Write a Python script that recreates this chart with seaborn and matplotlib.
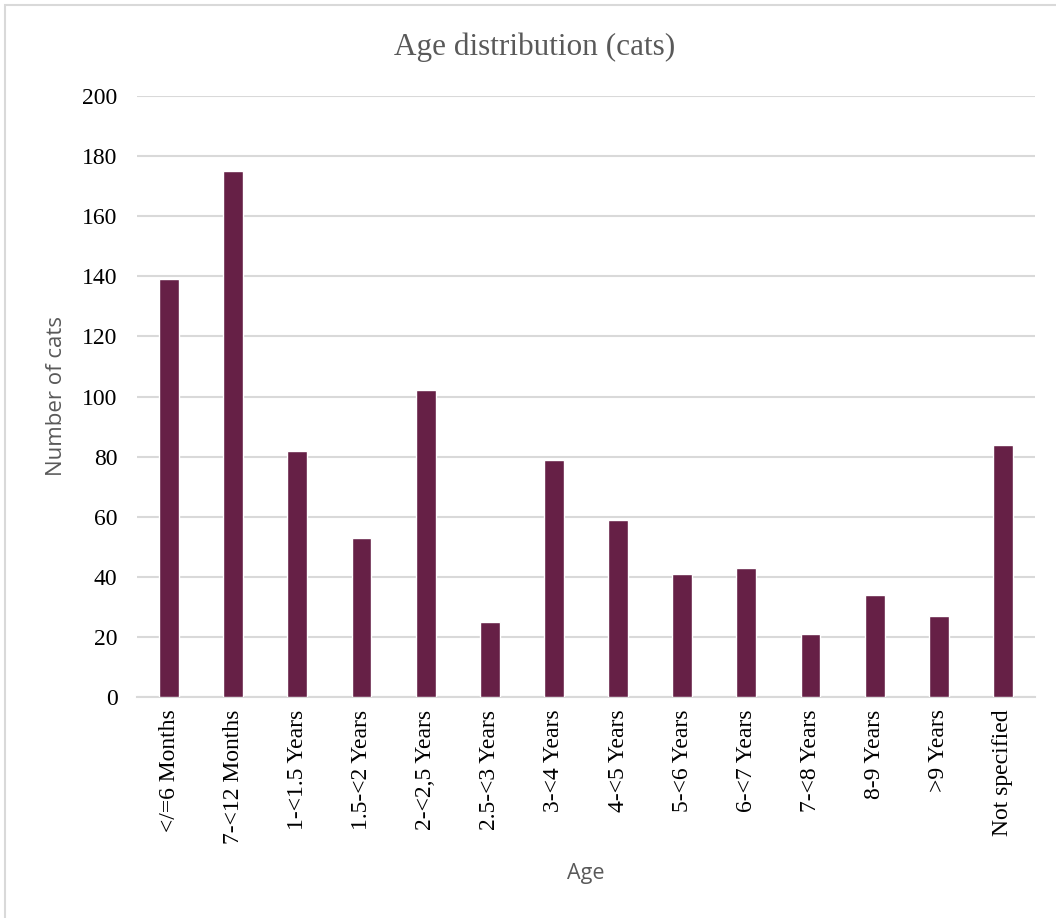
import matplotlib
matplotlib.use("Agg")
import matplotlib.pyplot as plt
import seaborn as sns
import pandas as pd
from matplotlib.patches import Rectangle

categories = ["</=6 Months", "7-<12 Months", "1-<1.5 Years", "1.5-<2 Years",
              "2-<2,5 Years", "2.5-<3 Years", "3-<4 Years", "4-<5 Years",
              "5-<6 Years", "6-<7 Years", "7-<8 Years", "8-9 Years",
              ">9 Years", "Not specified"]
counts = [139, 175, 82, 53, 102, 25, 79, 59, 41, 43, 21, 34, 27, 84]
yticks = [0, 20, 40, 60, 80, 100, 120, 140, 160, 180, 200]

df = pd.DataFrame({"Age": categories, "Number of cats": counts})

sns.set_theme(style="white")
SERIF = ["Liberation Serif", "DejaVu Serif"]
SANS = ["Open Sans", "DejaVu Sans"]

fig = plt.figure(figsize=(10.56, 9.18), dpi=100)
ax = fig.add_axes([137/1056, 1 - 697/918, (1035 - 137)/1056, (697 - 96)/918])

sns.barplot(data=df, x="Age", y="Number of cats", color="#662046",
            saturation=1, width=0.31, ax=ax, zorder=3)

ax.set_ylim(0, 200)
ax.set_xlim(-0.5, len(categories) - 0.5)
ax.set_yticks(yticks)
ax.yaxis.grid(True, color="#D9D9D9", linewidth=1.5, zorder=0)
ax.xaxis.grid(False)
for s in ["top", "right", "left"]:
    ax.spines[s].set_visible(False)
ax.spines["bottom"].set_color("#D9D9D9")
ax.spines["bottom"].set_linewidth(1.5)
ax.tick_params(axis="both", length=0)
ax.tick_params(axis="y", pad=14)
ax.tick_params(axis="x", pad=9)

for lbl in ax.get_yticklabels():
    lbl.set_fontfamily(SERIF)
    lbl.set_fontsize(17)
    lbl.set_color("black")
ax.set_xticks(range(len(categories)))
ax.set_xticklabels(categories, rotation=90, fontfamily=SERIF, fontsize=17, color="black")

ax.set_xlabel("Age", fontfamily=SANS, fontsize=15.5, color="#595959", labelpad=0)
ax.xaxis.set_label_coords((586 - 137) / (1035 - 137), -(873 - 697) / (697 - 96))
ax.xaxis.label.set_verticalalignment("center")
ax.set_ylabel("Number of cats", fontfamily=SANS, fontsize=16, color="#595959")
ax.yaxis.set_label_coords(-(137 - 57) / (1035 - 137), (697 - 396) / (697 - 96))
ax.yaxis.label.set_verticalalignment("center")

fig.text(535/1056, 1 - 47/918, "Age distribution (cats)", ha="center", va="center",
         fontfamily=SERIF, fontsize=22.5, color="#595959")

fig.patches.append(Rectangle((5/1056, -0.1), 1.2, 1 - 5/918 + 0.1,
                             transform=fig.transFigure, fill=False,
                             edgecolor="#D9D9D9", linewidth=1.5, zorder=0))

fig.savefig("out.png", dpi=100)
